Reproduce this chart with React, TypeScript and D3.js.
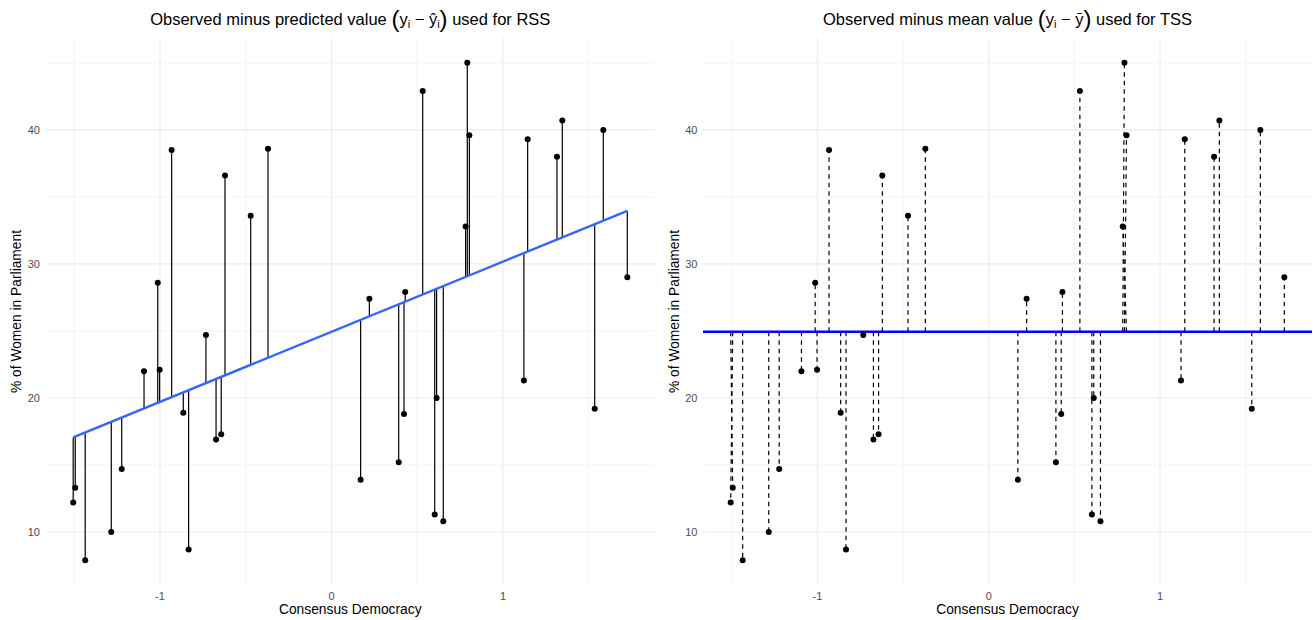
import React from "react";
import * as d3 from "d3";

// ---- data ----
const consensus = [
  -1.506, -1.494, -1.436, -1.284, -1.223, -1.093, -1.013, -1.002, -0.932, -0.864,
  -0.833, -0.732, -0.673, -0.643, -0.621, -0.471, -0.37, 0.17, 0.221, 0.392,
  0.423, 0.43, 0.532, 0.602, 0.613, 0.652, 0.782, 0.792, 0.804, 1.122,
  1.144, 1.315, 1.346, 1.535, 1.585, 1.725,
];
const womenPct = [
  12.2, 13.3, 7.9, 10.0, 14.7, 22.0, 28.6, 22.1, 38.5, 18.9,
  8.7, 24.7, 16.9, 17.3, 36.6, 33.6, 38.6, 13.9, 27.4, 15.2,
  18.8, 27.9, 42.9, 11.3, 20.0, 10.8, 32.8, 45.0, 39.6, 21.3,
  39.3, 38.0, 40.7, 19.2, 40.0, 29.0,
];
// in the TSS panel a few dashed segments start (on the mean line) at another point's x
const tssBaseSwaps: [number, number][] = [
  [0, 1], [1, 0], [26, 28], [27, 26], [28, 27],
];
const xMajorTicks = [-1, 0, 1];
const xMinorTicks = [-1.5, -0.5, 0.5, 1.5];
const yMajorTicks = [10, 20, 30, 40];
const yMinorTicks = [15, 25, 35, 45];
const xTitle = "Consensus Democracy";
const yTitle = "% of Women in Parliament";

const FONT = "'Liberation Sans', Arial, Helvetica, sans-serif";

function expand(ext: [number, number]): [number, number] {
  const d = (ext[1] - ext[0]) * 0.05;
  return [ext[0] - d, ext[1] + d];
}

const xDomain = expand(d3.extent(consensus) as [number, number]);
const yDomain = expand(d3.extent(womenPct) as [number, number]);

const meanX = d3.mean(consensus)!;
const meanY = d3.mean(womenPct)!;
const slope =
  d3.sum(consensus.map((x, i) => (x - meanX) * (womenPct[i] - meanY))) /
  d3.sum(consensus.map((x) => (x - meanX) ** 2));
const intercept = meanY - slope * meanX;
const predict = (x: number) => intercept + slope * x;

const PANEL_TOP = 38;
const PANEL_BOTTOM = 585;

function Panel({ left, right, kind }: { left: number; right: number; kind: "rss" | "tss" }) {
  const x = d3.scaleLinear().domain(xDomain).range([left, right]);
  const y = d3.scaleLinear().domain(yDomain).range([PANEL_BOTTOM, PANEL_TOP]);
  const cx = (left + right) / 2;
  const cy = (PANEL_TOP + PANEL_BOTTOM) / 2;
  const baseX = consensus.slice();
  tssBaseSwaps.forEach(([i, j]) => (baseX[i] = consensus[j]));
  const [xmin, xmax] = d3.extent(consensus) as [number, number];
  const fit = d3.line<number>().x((v) => x(v)).y((v) => y(predict(v)));

  return (
    <g>
      {/* grid */}
      {yMinorTicks.map((t) => (
        <line key={"ym" + t} x1={left} x2={right} y1={y(t)} y2={y(t)} stroke="#EBEBEB" strokeWidth={0.55} />
      ))}
      {xMinorTicks.map((t) => (
        <line key={"xm" + t} x1={x(t)} x2={x(t)} y1={PANEL_TOP} y2={PANEL_BOTTOM} stroke="#EBEBEB" strokeWidth={0.55} />
      ))}
      {yMajorTicks.map((t) => (
        <line key={"yM" + t} x1={left} x2={right} y1={y(t)} y2={y(t)} stroke="#EBEBEB" strokeWidth={1.1} />
      ))}
      {xMajorTicks.map((t) => (
        <line key={"xM" + t} x1={x(t)} x2={x(t)} y1={PANEL_TOP} y2={PANEL_BOTTOM} stroke="#EBEBEB" strokeWidth={1.1} />
      ))}

      {/* residual segments */}
      {kind === "rss"
        ? consensus.map((v, i) => (
            <line key={"s" + i} x1={x(v)} x2={x(v)} y1={y(predict(v))} y2={y(womenPct[i])} stroke="#000" strokeWidth={1.2} />
          ))
        : consensus.map((v, i) => (
            <line key={"s" + i} x1={x(baseX[i])} x2={x(v)} y1={y(meanY)} y2={y(womenPct[i])} stroke="#000" strokeWidth={1.2} strokeDasharray="4.5,4" />
          ))}

      {/* fitted line / mean line */}
      {kind === "rss" ? (
        <path d={fit([xmin, xmax])!} fill="none" stroke="#3366FF" strokeWidth={2.4} />
      ) : (
        <line x1={left} x2={right} y1={y(meanY)} y2={y(meanY)} stroke="#0000FF" strokeWidth={2.4} />
      )}

      {/* points */}
      {consensus.map((v, i) => (
        <circle key={"p" + i} cx={x(v)} cy={y(womenPct[i])} r={3} fill="#000" />
      ))}

      {/* axes tick labels */}
      {yMajorTicks.map((t) => (
        <text key={"yl" + t} x={left - 5.5} y={y(t)} dy="0.35em" textAnchor="end" fontSize={11} fill="#4D4D4D" fontFamily={FONT}>
          {t}
        </text>
      ))}
      {xMajorTicks.map((t) => (
        <text key={"xl" + t} x={x(t)} y={PANEL_BOTTOM + 15} textAnchor="middle" fontSize={11} fill="#4D4D4D" fontFamily={FONT}>
          {t}
        </text>
      ))}

      {/* axis titles */}
      <text x={cx} y={614} textAnchor="middle" fontSize={13.8} fill="#000" fontFamily={FONT}>
        {xTitle}
      </text>
      <text
        transform={`translate(${left - 29},${cy}) rotate(-90)`}
        textAnchor="middle"
        dy="0.35em"
        fontSize={13.8}
        fill="#000"
        fontFamily={FONT}
      >
        {yTitle}
      </text>

      {/* title */}
      <text x={cx} y={25} textAnchor="middle" fontSize={16.5} fill="#000" fontFamily={FONT}>
        {kind === "rss" ? (
          <>
            <tspan>Observed minus predicted value </tspan>
            <tspan fontSize={24} dy={1.5}>(</tspan>
            <tspan dy={-1.5}>y</tspan>
            <tspan fontSize={11} dy={3}>i</tspan>
            <tspan dy={-3}> − ŷ</tspan>
            <tspan fontSize={11} dy={3}>i</tspan>
            <tspan fontSize={24} dy={-1.5}>)</tspan>
            <tspan dy={-1.5}> used for RSS</tspan>
          </>
        ) : (
          <>
            <tspan>Observed minus mean value </tspan>
            <tspan fontSize={24} dy={1.5}>(</tspan>
            <tspan dy={-1.5}>y</tspan>
            <tspan fontSize={11} dy={3}>i</tspan>
            <tspan dy={-3}> − ȳ</tspan>
            <tspan fontSize={24} dy={1.5}>)</tspan>
            <tspan dy={-1.5}> used for TSS</tspan>
          </>
        )}
      </text>
    </g>
  );
}

export default function App() {
  return (
    <svg
      width={1313}
      height={620}
      style={{ position: "absolute", left: 0, top: 0, background: "#fff" }}
    >
      <rect width={1313} height={620} fill="#fff" />
      <Panel left={45.5} right={655} kind="rss" />
      <Panel left={703} right={1312} kind="tss" />
    </svg>
  );
}
